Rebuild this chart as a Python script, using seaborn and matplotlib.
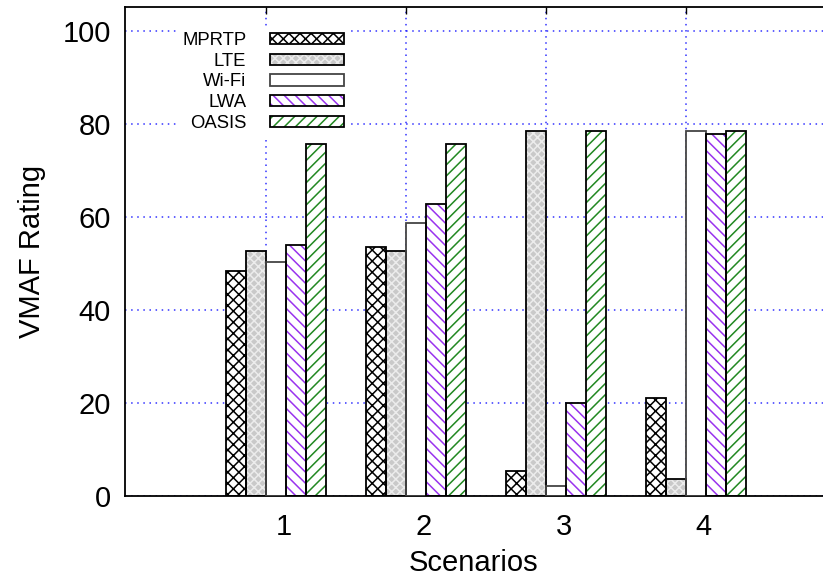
import pandas as pd
import matplotlib
matplotlib.use("Agg")
import matplotlib.pyplot as plt
import seaborn as sns
from matplotlib.patches import Rectangle, Patch
from matplotlib.legend_handler import HandlerTuple

# values
scenarios = ["1", "2", "3", "4"]
schemes = ["MPRTP", "LTE", "Wi-Fi", "LWA", "OASIS"]
mprtp = [48.4, 53.5, 5.4, 21.0]
lte = [52.8, 52.8, 78.6, 3.7]
wifi = [50.3, 58.8, 2.2, 78.6]
lwa = [53.9, 62.9, 20.1, 77.8]
oasis = [75.7, 75.7, 78.6, 78.6]
yticks = [0, 20, 40, 60, 80, 100]

# face colour, hatch, hatch colour, outline colour per scheme
styles = {
    "MPRTP": ("white", "xxx", "black", "black"),
    "LTE": ("#c9c9c9", "xxxx", "#ececec", "black"),
    "Wi-Fi": ("white", "", "white", "#444444"),
    "LWA": ("white", "\\\\\\", "#9933ee", "black"),
    "OASIS": ("white", "///", "#228822", "black"),
}

rows = []
for name, vals in zip(schemes, [mprtp, lte, wifi, lwa, oasis]):
    for sc, v in zip(scenarios, vals):
        rows.append((sc, name, v))
df = pd.DataFrame.from_records(rows, columns=["scenario", "scheme", "vmaf"])

sns.set_style("white")
plt.rcParams["font.family"] = ["Liberation Sans", "DejaVu Sans"]
plt.rcParams["hatch.linewidth"] = 1.1
for key in ["text.color", "axes.labelcolor", "xtick.color", "ytick.color"]:
    plt.rcParams[key] = "black"

fig = plt.figure(figsize=(8.23, 5.77), dpi=100)
ax = fig.add_axes([125 / 823, 81 / 577, 698 / 823, 489 / 577])

sns.barplot(data=df, x="scenario", y="vmaf", hue="scheme", order=scenarios,
            hue_order=schemes, width=5 / 7, gap=0, dodge=True, legend=False,
            errorbar=None, ax=ax)

for name, cont in zip(schemes, ax.containers):
    fc, hatch, hc, ec = styles[name]
    for bar in cont:
        bar.set_facecolor(fc)
        bar.set_hatch(hatch)
        bar.set_edgecolor(hc)
        bar.set_linewidth(0)
        bar.set_zorder(2)
        ax.add_patch(Rectangle(bar.get_xy(), bar.get_width(), bar.get_height(),
                               fill=False, edgecolor=ec, linewidth=1.3, zorder=3))

ax.set_xlim(-1.079, 3.907)
ax.set_ylim(0, 105.2)

# grid ticks sit at the left edge of the middle bar, labels a bit right of centre
ax.set_xticks([i - 1 / 14 for i in range(len(scenarios))])
ax.set_xticklabels([])
ax.set_xticks([i + 0.054 for i in range(len(scenarios))], minor=True)
ax.set_xticklabels(scenarios, minor=True)
ax.set_yticks(yticks)
ax.set_yticklabels([str(t) for t in yticks])

ax.tick_params(axis="both", which="major", direction="in", length=5, width=1,
               color="black", top=True, labelsize=21, pad=10)
ax.tick_params(axis="x", which="minor", length=0, labelsize=21, pad=12)

ax.grid(True, which="major", color="blue", linestyle=(0, (1, 3)), linewidth=1.1, alpha=0.8)
ax.set_axisbelow(True)

for side in ["left", "bottom", "top"]:
    ax.spines[side].set_color("black")
    ax.spines[side].set_linewidth(1.3)
ax.spines["right"].set_visible(False)

ax.set_xlabel("Scenarios", fontsize=21, labelpad=6)
ax.set_ylabel("VMAF Rating", fontsize=21, labelpad=12)

handles = []
for name in schemes:
    fc, hatch, hc, ec = styles[name]
    handles.append((Patch(facecolor=fc, hatch=hatch, edgecolor=hc, linewidth=0),
                    Patch(fill=False, edgecolor=ec, linewidth=1.3)))
# markerfirst=False puts labels left of the swatches, right-aligned
ax.legend(handles, schemes, handler_map={tuple: HandlerTuple(ndivide=1)},
          loc="upper left", bbox_to_anchor=(0.062, 0.977), markerfirst=False,
          fontsize=13.3, handlelength=4.0, handleheight=0.55, handletextpad=1.3,
          labelspacing=0.2, frameon=True, framealpha=1, facecolor="white",
          edgecolor="white", borderpad=0.25, fancybox=False)

fig.savefig("out.png", dpi=100)
